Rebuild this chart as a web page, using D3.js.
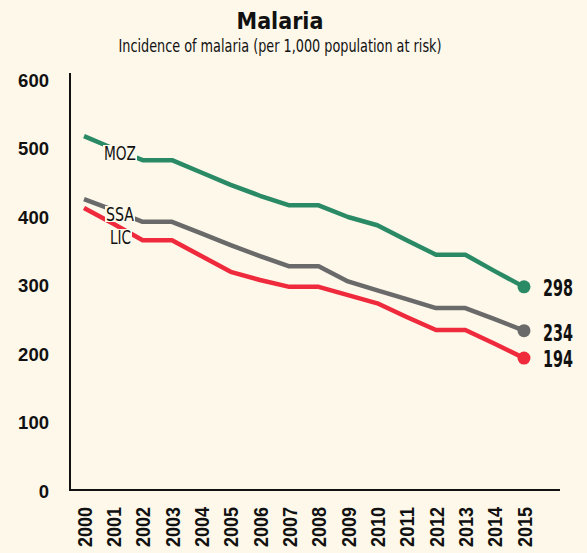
<!DOCTYPE html>
<html>
<head>
<meta charset="utf-8">
<script src="https://cdn.jsdelivr.net/npm/d3@7"></script>
<style>
  body { margin: 0; background: #fdf8ea; }
  svg { display: block; font-family: "DejaVu Sans Condensed", "DejaVu Sans", sans-serif; font-stretch: condensed; }
</style>
</head>
<body>
<svg id="chart" width="587" height="553"></svg>
<script>
var years = [2000, 2001, 2002, 2003, 2004, 2005, 2006, 2007, 2008, 2009, 2010, 2011, 2012, 2013, 2014, 2015];
var mozValues = [518, 500, 483, 483, 465, 447, 431, 417, 417, 400, 388, 366, 345, 345, 321, 298];
var ssaValues = [426, 410, 393, 393, 376, 359, 343, 328, 328, 306, 293, 280, 267, 267, 251, 234];
var licValues = [413, 390, 366, 366, 343, 320, 308, 298, 298, 286, 274, 254, 235, 235, 215, 194];
var seriesNames = ["MOZ", "SSA", "LIC"];
var seriesColors = ["#2b8a66", "#6a6a6a", "#ee2a3c"];
var yTicks = [0, 100, 200, 300, 400, 500, 600];

var svg = d3.select("#chart");
var bg = "#fdf8ea";

var series = [
  { name: seriesNames[0], values: mozValues, color: seriesColors[0] },
  { name: seriesNames[1], values: ssaValues, color: seriesColors[1] },
  { name: seriesNames[2], values: licValues, color: seriesColors[2] }
];

var xScale = d3.scaleLinear()
  .domain([2000, 2015])
  .range([84, 524]);

var yScale = d3.scaleLinear()
  .domain([0, 600])
  .range([491, 80]);

// title
svg.append("text")
  .attr("x", 280)
  .attr("y", 29)
  .attr("text-anchor", "middle")
  .attr("font-weight", "bold")
  .attr("font-size", 23)
  .attr("fill", "#111")
  .text("Malaria");

svg.append("text")
  .attr("x", 280)
  .attr("y", 52)
  .attr("text-anchor", "middle")
  .attr("font-size", 17)
  .attr("fill", "#111")
  .attr("textLength", 323)
  .attr("lengthAdjust", "spacingAndGlyphs")
  .text("Incidence of malaria (per 1,000 population at risk)");

// axes
var yAxis = d3.axisLeft(yScale)
  .tickValues(yTicks)
  .tickSize(0)
  .tickPadding(21);

var yAxisG = svg.append("g")
  .attr("transform", "translate(70,0)")
  .call(yAxis);
yAxisG.select(".domain").remove();
yAxisG.selectAll("text")
  .attr("font-family", null)
  .attr("font-size", 19)
  .attr("font-weight", "bold")
  .attr("fill", "#111")
  .attr("lengthAdjust", "spacingAndGlyphs")
  .attr("textLength", function(d) { return String(d).length * 10.3; });

svg.append("line")
  .attr("x1", 70).attr("x2", 70)
  .attr("y1", 73).attr("y2", 491)
  .attr("stroke", "#111")
  .attr("stroke-width", 2);

svg.append("line")
  .attr("x1", 69).attr("x2", 560)
  .attr("y1", 490).attr("y2", 490)
  .attr("stroke", "#111")
  .attr("stroke-width", 2);

var xAxis = d3.axisBottom(xScale)
  .tickValues(years)
  .tickFormat(d3.format("d"))
  .tickSize(0);

var xAxisG = svg.append("g")
  .attr("transform", "translate(0,507)")
  .call(xAxis);
xAxisG.select(".domain").remove();
xAxisG.selectAll("text")
  .attr("font-family", null)
  .attr("font-size", 20)
  .attr("font-weight", "bold")
  .attr("fill", "#111")
  .attr("text-anchor", "end")
  .attr("dy", "0.35em")
  .attr("y", 0)
  .attr("textLength", 40)
  .attr("lengthAdjust", "spacingAndGlyphs")
  .attr("transform", "rotate(-90)");

// lines
var line = d3.line()
  .x(function(d, i) { return xScale(years[i]); })
  .y(function(d) { return yScale(d); });

series.forEach(function(s) {
  svg.append("path")
    .datum(s.values)
    .attr("fill", "none")
    .attr("stroke", s.color)
    .attr("stroke-width", 4.5)
    .attr("stroke-linejoin", "round")
    .attr("d", line);

  var last = s.values[s.values.length - 1];
  svg.append("circle")
    .attr("cx", xScale(years[years.length - 1]))
    .attr("cy", yScale(last))
    .attr("r", 6.5)
    .attr("fill", s.color);
});

// series name labels with background boxes
var nameLabels = [
  { name: seriesNames[0], x: 104, y: 153, w: 32 },
  { name: seriesNames[1], x: 106, y: 214, w: 28 },
  { name: seriesNames[2], x: 110, y: 237, w: 21 }
];
nameLabels.forEach(function(l) {
  var t = svg.append("text")
    .attr("x", l.x)
    .attr("y", l.y)
    .attr("dy", "0.35em")
    .attr("font-size", 20)
    .attr("fill", "#111")
    .attr("textLength", l.w)
    .attr("lengthAdjust", "spacingAndGlyphs")
    .text(l.name);
  var bb = t.node().getBBox();
  svg.insert("rect", function() { return t.node(); })
    .attr("x", l.x - 1)
    .attr("y", bb.y + 4)
    .attr("width", l.w + 2)
    .attr("height", bb.height - 8)
    .attr("fill", bg);
});

// end value labels
var endOffsets = [1, 2, 1];
series.forEach(function(s, i) {
  var last = s.values[s.values.length - 1];
  svg.append("text")
    .attr("x", 543)
    .attr("y", yScale(last) + endOffsets[i])
    .attr("dy", "0.35em")
    .attr("font-size", 23)
    .attr("font-weight", "bold")
    .attr("fill", "#111")
    .attr("textLength", 30)
    .attr("lengthAdjust", "spacingAndGlyphs")
    .text(last);
});
</script>
</body>
</html>
